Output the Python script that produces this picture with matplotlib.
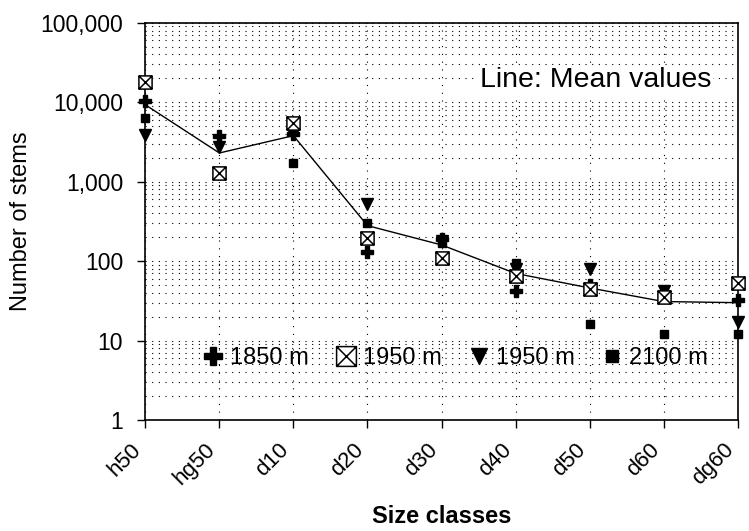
import numpy as np
import matplotlib.pyplot as plt
from matplotlib.path import Path
from matplotlib.ticker import FixedLocator, FuncFormatter, LogLocator, NullFormatter

plt.rcParams['font.family'] = ['Liberation Sans', 'DejaVu Sans']

size_classes = ['h50', 'hg50', 'd10', 'd20', 'd30', 'd40', 'd50', 'd60', 'dg60']

# stems per size class
stems_1850 = [10500, 3800, 4000, 130, 190, 42, 50, 38, 32]
stems_1950a = [18000, 1300, 5500, 195, 110, 65, 45, 35, 53]
stems_1950b = [3900, 2700, 4000, 520, 180, 80, 80, 42, 17]
stems_2100 = [6300, 1350, 1700, 300, 170, 95, 16, 12, 12]
mean_values = [9300, 2300, 3800, 280, 160, 70, 46, 31, 30]

# square with a cross inside
box_x = Path([(-1, -1), (1, -1), (1, 1), (-1, 1), (-1, -1),
              (-1, -1), (1, 1), (-1, 1), (1, -1)],
             [Path.MOVETO, Path.LINETO, Path.LINETO, Path.LINETO, Path.CLOSEPOLY,
              Path.MOVETO, Path.LINETO, Path.MOVETO, Path.LINETO])

fig = plt.figure(figsize=(7.49, 5.31), dpi=100)
ax = fig.add_axes([0.194, 0.209, 0.791, 0.748])
x = np.arange(len(size_classes))

ax.plot(x, mean_values, color='black', lw=1.0, zorder=3, clip_on=False)
ax.plot(x, stems_1850, ls='none', marker='P', ms=9, color='black', label='1850 m',
        zorder=4, clip_on=False)
ax.plot(x, stems_1950a, ls='none', marker=box_x, ms=9.5, mfc='white', mec='black', mew=1.1,
        label='1950 m', zorder=5, clip_on=False)
ax.plot(x, stems_1950b, ls='none', marker='v', ms=8, color='black', label='1950 m',
        zorder=4, clip_on=False)
ax.plot(x, stems_2100, ls='none', marker='s', ms=5.5, color='black', label='2100 m',
        zorder=4, clip_on=False)

ax.set_yscale('log')
ax.set_ylim(1, 100000)
ax.set_xlim(0, len(size_classes) - 1)
ax.yaxis.set_major_locator(FixedLocator([1, 10, 100, 1000, 10000, 100000]))
ax.yaxis.set_major_formatter(FuncFormatter(lambda v, p: f'{v:,.0f}'))
ax.yaxis.set_minor_locator(LogLocator(base=10, subs=np.arange(2, 10)))
ax.yaxis.set_minor_formatter(NullFormatter())
ax.set_xticks(x)
ax.set_xticklabels(size_classes, rotation=45, ha='right')

ax.tick_params(axis='both', which='major', labelsize=16.5, length=6, width=1, direction='out')
ax.tick_params(axis='y', which='major', pad=10)
ax.tick_params(axis='y', which='minor', length=0)
ax.tick_params(axis='x', labelsize=16, pad=8)

ax.grid(True, which='both', axis='y', color='black', ls=(0, (1, 5)), lw=0.8)
ax.grid(True, which='major', axis='x', color='black', ls=(0, (1, 6)), lw=0.8)
for s in ax.spines.values():
    s.set_linewidth(1.2)

ax.text(0.955, 0.855, 'Line: Mean values', transform=ax.transAxes, ha='right', va='center',
        fontsize=20.5, bbox=dict(facecolor='white', edgecolor='none', pad=1))

ax.legend(loc='center', bbox_to_anchor=(0.52, 0.156), ncol=4, frameon=False, fontsize=17,
          handletextpad=0.1, columnspacing=1.0, handlelength=1.2, borderpad=0,
          markerscale=1.5)

ax.set_ylabel('Number of stems', fontsize=17, labelpad=6)
ax.set_xlabel('Size classes', fontsize=17, fontweight='bold', labelpad=11)

fig.savefig('out.png', dpi=100)
